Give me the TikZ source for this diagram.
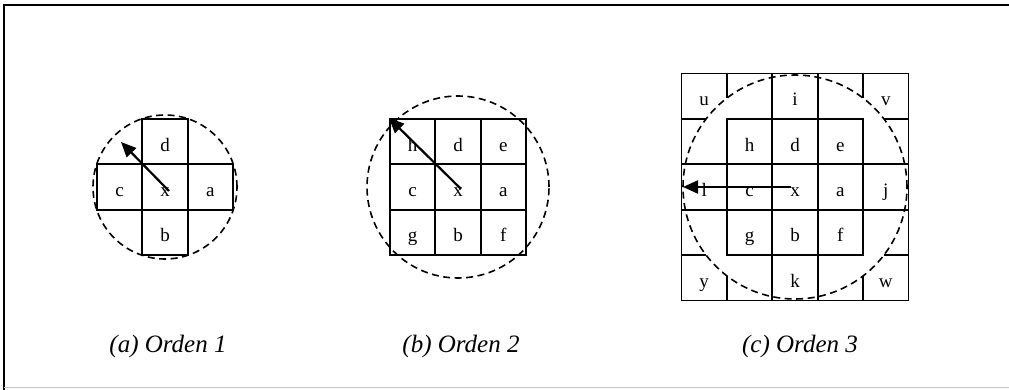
\documentclass[tikz,border=0pt]{standalone}
\usepackage{fontspec}
\newfontfamily\labfont{Liberation Serif}
\usetikzlibrary{arrows.meta,calc}
\begin{document}
\begin{tikzpicture}[x=1pt,y=-1pt,
  cell/.style={draw, line width=1.8pt, minimum size=45.4pt, inner sep=0pt,
    font=\labfont\fontsize{19}{19}\selectfont, text height=19pt, text depth=0pt},
  celltext/.style={inner sep=0pt, minimum size=45.4pt,
    font=\labfont\fontsize{19}{19}\selectfont, text height=19pt, text depth=0pt},
  gridline/.style={line width=1.8pt},
  dcirc/.style={line width=1.6pt, dash pattern=on 7pt off 4.5pt},
  arr/.style={line width=2.2pt, -{Triangle[length=15pt,width=13pt]}},
  captext/.style={anchor=base, font=\labfont\itshape\fontsize{25}{27}\selectfont},
  framebar/.style={line width=2pt}]
\useasboundingbox (0,0) rectangle (1009,390);
% frame
\draw[framebar] (3.5,390) -- (3.5,5.5) -- (1009,5.5);
\draw[gray!45, line width=0.8pt] (3.5,387.5) -- (1009,387.5);

% ---------- (a) Orden 1 ----------
\node[cell] (a1x) at (165,187) {x};
\node[cell] (a1d) at (165,141.6) {d};
\node[cell] (a1b) at (165,232.4) {b};
\node[cell] (a1c) at (119.6,187) {c};
\node[cell] (a1a) at (210.4,187) {a};
\draw[dcirc] (a1x.center) circle[radius=72pt];
\coordinate (a1s) at ($(a1x.center)+(4,4)$);
\coordinate (a1t) at (121,142);
\draw[arr] (a1s) -- (a1t);
\node[captext] (capa) at (168,352) {(a) Orden 1};

% ---------- (b) Orden 2 ----------
\node[cell] (b2h) at (412.6,141.6) {h};
\node[cell] (b2d) at (458,141.6) {d};
\node[cell] (b2e) at (503.4,141.6) {e};
\node[cell] (b2c) at (412.6,187) {c};
\node[cell] (b2x) at (458,187) {x};
\node[cell] (b2a) at (503.4,187) {a};
\node[cell] (b2g) at (412.6,232.4) {g};
\node[cell] (b2b) at (458,232.4) {b};
\node[cell] (b2f) at (503.4,232.4) {f};
\draw[dcirc] (b2x.center) circle[radius=91pt];
\coordinate (b2s) at ($(b2x.center)+(3,2)$);
\draw[arr] (b2s) -- (b2h.north west);
\node[captext] (capb) at (461,352) {(b) Orden 2};

% ---------- (c) Orden 3 ----------
\node[draw, line width=1.8pt, minimum size=227pt, inner sep=0pt] (o3) at (795,187) {};
\node[cell] (c3h) at (749.6,141.6) {h};
\node[cell] (c3d) at (795,141.6) {d};
\node[cell] (c3e) at (840.4,141.6) {e};
\node[cell] (c3c) at (749.6,187) {c};
\node[cell] (c3x) at (795,187) {x};
\node[cell] (c3a) at (840.4,187) {a};
\node[cell] (c3g) at (749.6,232.4) {g};
\node[cell] (c3b) at (795,232.4) {b};
\node[cell] (c3f) at (840.4,232.4) {f};
\node[cell] (c3i) at (795,96.2) {i};
\node[cell] (c3k) at (795,277.8) {k};
\node[cell] (c3l) at (704.2,187) {l};
\node[cell] (c3j) at (885.8,187) {j};
\node[celltext] (c3u) at (704.2,96.2) {u};
\node[celltext] (c3v) at (885.8,96.2) {v};
\node[celltext] (c3y) at (704.2,277.8) {y};
\node[celltext] (c3w) at (885.8,277.8) {w};
% corner partial lines (cut by the circle)
\draw[gridline] (726.9,73.5) -- (726.9,98.1);
\draw[gridline] (681.5,118.9) -- (706.1,118.9);
\draw[gridline] (863.1,73.5) -- (863.1,98.1);
\draw[gridline] (908.5,118.9) -- (883.9,118.9);
\draw[gridline] (726.9,300.5) -- (726.9,275.9);
\draw[gridline] (681.5,255.1) -- (706.1,255.1);
\draw[gridline] (863.1,300.5) -- (863.1,275.9);
\draw[gridline] (908.5,255.1) -- (883.9,255.1);
\draw[dcirc] (o3.center) circle[radius=112pt];
\coordinate (c3s) at ($(c3x.center)+(-4,0)$);
\coordinate (c3t) at (683,187);
\draw[arr] (c3s) -- (c3t);
\node[captext] (capc) at (800,352) {(c) Orden 3};
\end{tikzpicture}
\end{document}
